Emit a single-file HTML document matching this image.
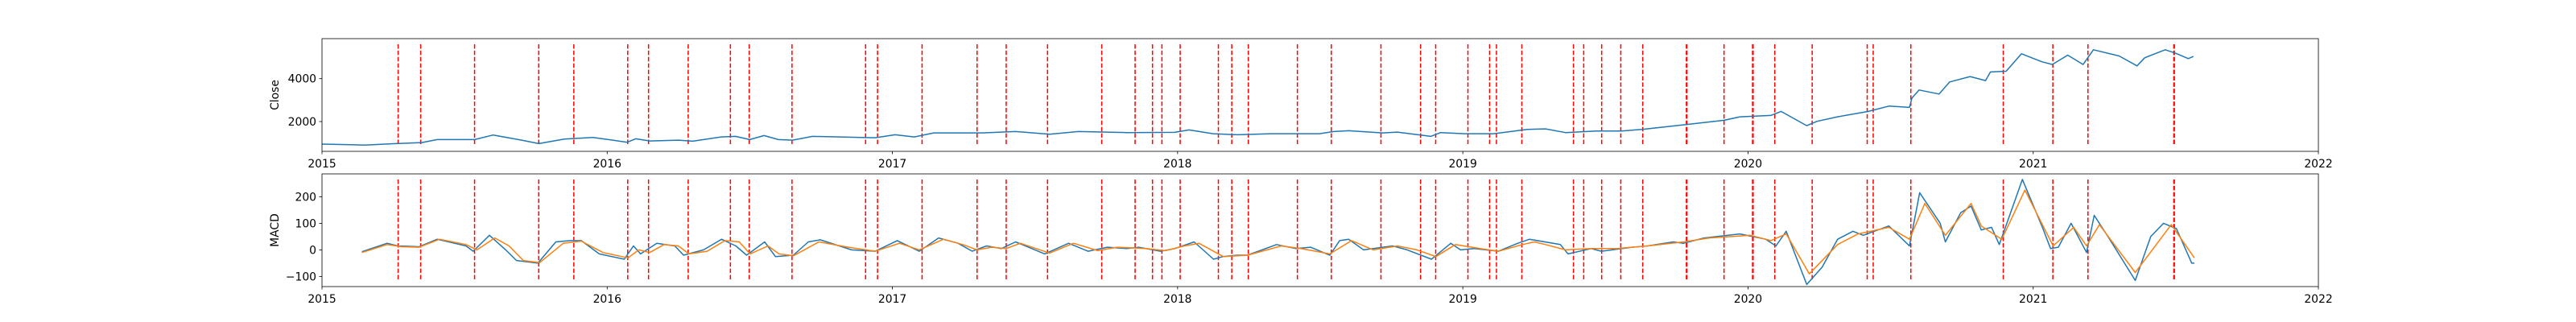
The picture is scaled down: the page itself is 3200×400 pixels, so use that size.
<!DOCTYPE html>
<html><head><meta charset="utf-8">
<style>
html,body{margin:0;padding:0;background:#fff;}
svg{display:block;font-family:"DejaVu Sans","Liberation Sans",sans-serif;}
</style></head>
<body>
<svg id="chart" width="3200" height="400" viewBox="0 0 3200 400" xmlns="http://www.w3.org/2000/svg"></svg>
<script>
// ---- data ----
const xTickYears = [2015,2016,2017,2018,2019,2020,2021,2022];
const closeTicks = [2000,4000];
const macdTicks = [-100,0,100,200];
const closeYears = [0,0.1,0.15,0.25,0.35,0.404,0.535,0.6,0.7,0.76,0.85,0.95,1.07,1.1,1.15,1.25,1.3,1.4,1.45,1.5,1.55,1.6,1.65,1.72,1.891,1.94,2.009,2.077,2.145,2.314,2.432,2.551,2.652,2.821,2.99,3.04,3.125,3.21,3.328,3.497,3.548,3.6,3.719,3.77,3.888,3.922,4.006,4.108,4.226,4.29,4.36,4.468,4.557,4.629,4.773,4.917,4.972,5.08,5.116,5.206,5.242,5.314,5.422,5.494,5.566,5.575,5.6,5.67,5.707,5.779,5.833,5.85,5.905,5.959,6.031,6.067,6.121,6.175,6.211,6.301,6.364,6.391,6.463,6.499,6.544,6.562];
const closeValues = [950,920,900,970,1020,1160,1160,1372,1135,972,1185,1260,1035,1197,1097,1135,1085,1285,1310,1160,1347,1160,1135,1310,1260,1247,1385,1285,1472,1472,1535,1410,1535,1485,1497,1610,1435,1385,1435,1435,1535,1572,1472,1510,1310,1485,1435,1435,1635,1660,1485,1560,1560,1635,1847,2060,2222,2285,2472,1810,2010,2222,2472,2722,2660,3097,3472,3285,3847,4097,3910,4310,4347,5160,4785,4660,5097,4660,5347,5060,4597,4972,5347,5185,4935,5035];
const macdYears = [0.14,0.228,0.266,0.341,0.404,0.505,0.53,0.587,0.644,0.682,0.757,0.82,0.871,0.909,0.972,1.06,1.092,1.117,1.174,1.237,1.268,1.338,1.401,1.451,1.489,1.552,1.59,1.653,1.705,1.747,1.857,1.94,2.017,2.094,2.162,2.23,2.28,2.33,2.382,2.432,2.534,2.618,2.686,2.754,2.822,2.864,2.94,2.99,3.058,3.126,3.16,3.21,3.245,3.347,3.415,3.466,3.534,3.568,3.6,3.652,3.754,3.805,3.89,3.958,3.992,4.04,4.125,4.193,4.234,4.342,4.369,4.45,4.486,4.594,4.648,4.738,4.774,4.846,4.972,5.062,5.098,5.134,5.206,5.26,5.314,5.368,5.404,5.494,5.566,5.602,5.674,5.692,5.746,5.782,5.818,5.854,5.881,5.962,6.034,6.061,6.088,6.133,6.187,6.214,6.268,6.358,6.412,6.457,6.502,6.556,6.565];
const macdValues = [-7,25,15,12,40,15,-5,55,0,-40,-50,30,35,35,-15,-35,15,-15,25,15,-20,0,40,15,-20,30,-25,-20,30,38,0,-5,35,-5,45,25,-5,15,5,30,-15,25,-5,10,5,10,-5,5,30,-35,-25,-20,-20,20,5,10,-20,35,40,0,15,0,-35,25,0,5,-5,25,40,20,-15,5,-5,10,15,30,25,45,60,40,15,70,-130,-65,40,70,55,90,15,215,100,30,140,165,75,85,20,265,80,5,10,100,-10,130,40,-115,50,100,80,-50,-50];
const signalYears = [0.14,0.228,0.28,0.341,0.412,0.505,0.543,0.606,0.656,0.706,0.763,0.846,0.909,0.985,1.073,1.111,1.149,1.199,1.249,1.287,1.35,1.413,1.463,1.501,1.564,1.602,1.653,1.742,1.846,1.94,2.025,2.094,2.179,2.247,2.297,2.348,2.398,2.449,2.551,2.635,2.72,2.788,2.889,2.957,3.024,3.075,3.16,3.245,3.364,3.432,3.534,3.61,3.686,3.771,3.839,3.906,3.974,4.06,4.125,4.209,4.251,4.29,4.36,4.45,4.54,4.648,4.774,4.864,5.008,5.08,5.134,5.215,5.314,5.386,5.494,5.566,5.62,5.692,5.782,5.818,5.89,5.971,6.07,6.142,6.187,6.232,6.358,6.484,6.565];
const signalValues = [-10,20,12,10,40,20,0,45,15,-40,-48,25,33,-10,-30,0,-10,20,15,-15,-5,35,30,-15,15,-15,-22,30,10,-5,25,0,40,20,0,10,5,25,-12,25,-3,10,5,-3,15,25,-25,-20,15,5,-15,35,0,15,0,-25,20,5,-5,20,30,20,0,5,5,15,30,45,55,35,60,-90,20,60,85,40,175,55,175,90,40,225,15,85,15,95,-85,95,-30];
const signalDates = [0.267,0.346,0.535,0.760,0.883,1.072,1.145,1.284,1.432,1.498,1.648,1.906,1.948,2.104,2.297,2.399,2.544,2.734,2.851,2.912,2.945,3.009,3.143,3.190,3.248,3.420,3.539,3.713,3.852,3.905,4.018,4.094,4.118,4.207,4.388,4.424,4.487,4.554,4.631,4.784,4.786,4.916,5.016,5.018,5.094,5.225,5.418,5.439,5.571,5.895,6.069,6.192,6.493,6.495];

// ---- layout ----
const L=400,R=2880,T1=48,B1=188,T2=216,B2=356;
const svg=document.getElementById('chart');
const NS='http://www.w3.org/2000/svg';
function xS(yr){return L+(yr-0)*(R-L)/7;}
function y1(v){return B1-(v-612)*(B1-T1)/(5865-612);}
function y2(v){return B2-(v+138)*(B2-T2)/(286+138);}
function mk(tag,attrs,parent){const e=document.createElementNS(NS,tag);for(const k in attrs)e.setAttribute(k,attrs[k]);(parent||svg).appendChild(e);return e;}

function drawPanel(top,bot,yFn,ticks,label,idx){
  const g=mk('g',{});
  
  
  // vertical dashed signal lines
  signalDates.forEach(d=>{
    const ln=mk('line',{x1:xS(d),x2:xS(d),y1:top+(bot-top)*0.05,y2:top+(bot-top)*0.95,stroke:'#ff0000','stroke-width':1.5,'stroke-dasharray':'5.5,2.4'},g);
    
    
  });
  // y ticks
  ticks.forEach(t=>{
    const y=yFn(t);
    mk('line',{x1:L-3.5,x2:L,y1:y,y2:y,stroke:'#000','stroke-width':0.8},g);
    const tx=mk('text',{x:L-7,y:y+5,'text-anchor':'end','font-size':13.9,fill:'#000'},g);
    tx.textContent=(t<0?'\u2212'+(-t):String(t));
    
    
  });
  // x ticks
  xTickYears.forEach(yr=>{
    const x=xS(yr-2015);
    mk('line',{x1:x,x2:x,y1:bot,y2:bot+3.5,stroke:'#000','stroke-width':0.8},g);
    const tx=mk('text',{x:x,y:bot+20,'text-anchor':'middle','font-size':13.9,fill:'#000'},g);
    tx.textContent=String(yr);
    
    
  });
  const yl=mk('text',{x:0,y:0,'text-anchor':'middle','font-size':13.9,fill:'#000',transform:'translate(346,'+((top+bot)/2)+') rotate(-90)'},g);
  yl.textContent=label;
  
  
  return g;
}
function series(xs,vs,yFn,color,name){
  const d=xs.map((x,i)=>(i?'L':'M')+xS(x).toFixed(1)+','+yFn(vs[i]).toFixed(1)).join('');
  const p=mk('path',{d:d,fill:'none',stroke:color,'stroke-width':1.5,'stroke-linejoin':'round'});
  
  
}
drawPanel(T1,B1,y1,closeTicks,'Close',0);
series(closeYears,closeValues,y1,'#1f77b4','close-line');
drawPanel(T2,B2,y2,macdTicks,'MACD',1);
series(macdYears,macdValues,y2,'#1f77b4','macd-line');
series(signalYears,signalValues,y2,'#ff7f0e','signal-line-series');
[[T1,B1],[T2,B2]].forEach(([t,b])=>{
  const r=mk('rect',{x:L,y:t,width:R-L,height:b-t,fill:'none',stroke:'#000','stroke-width':0.8});
  
  
});
</script>
</body></html>
